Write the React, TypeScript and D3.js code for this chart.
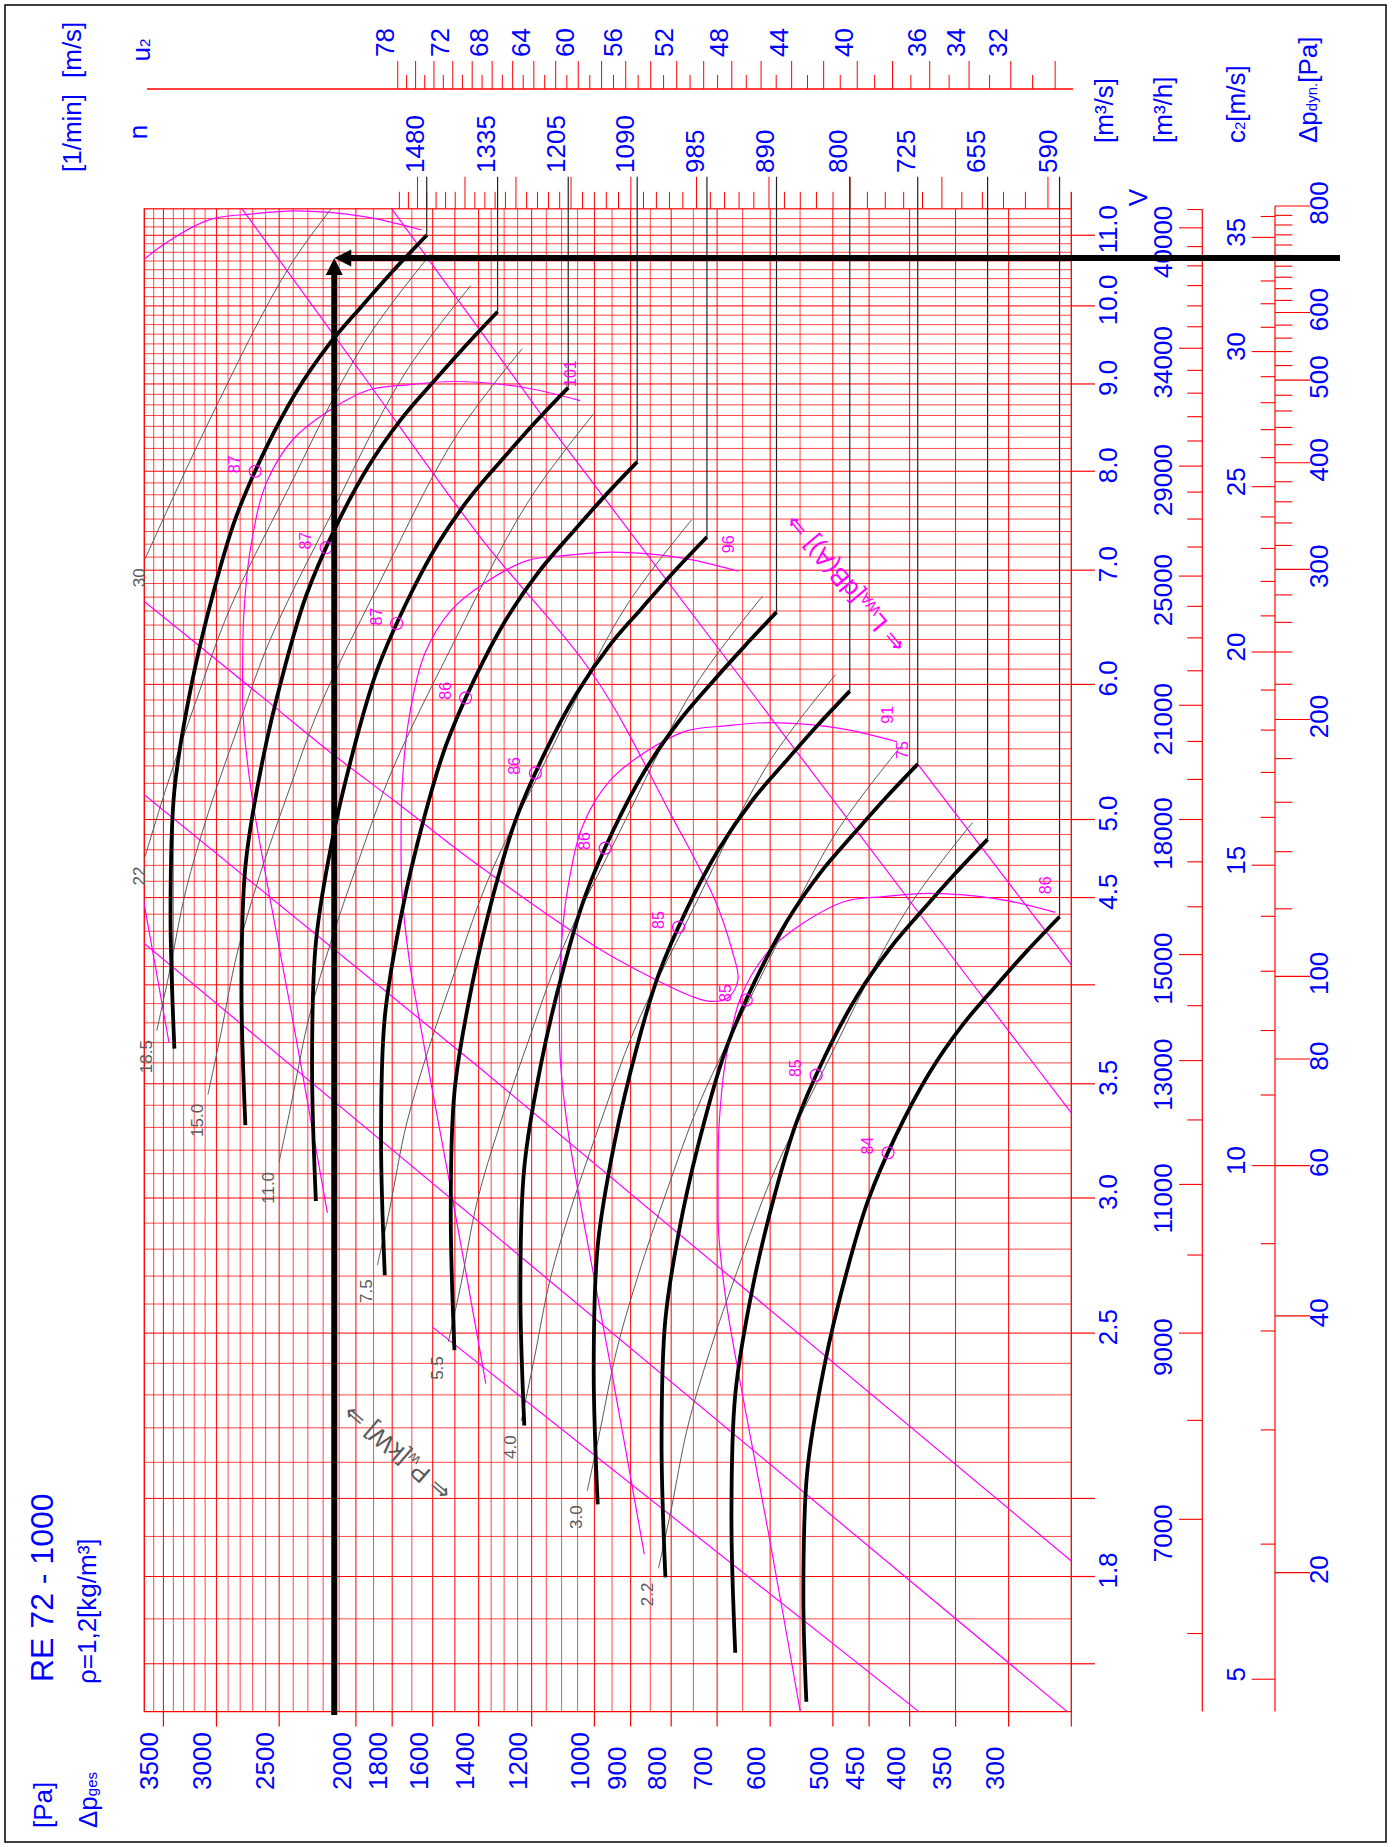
import React from "react";
import * as d3 from "d3";

type Pt = [number, number]; // [volume flow V in m³/s, total pressure Δp in Pa]

// ---------- axis values ----------
const PRESSURE_LABELS = [3500, 3000, 2500, 2000, 1800, 1600, 1400, 1200, 1000, 900, 800, 700, 600, 500, 450, 400, 350, 300];
const PRESSURE_END_TICKS = [250];
const FLOW_LABELS = [11, 10, 9, 8, 7, 6, 5, 4.5, 3.5, 3, 2.5, 1.8];
const FLOW_LONG_TICKS = [4, 2, 1.6];
const FLOW_H_LABELS = [40000, 34000, 29000, 25000, 21000, 18000, 15000, 13000, 11000, 9000, 7000];
const C2_LABELS = [35, 30, 25, 20, 15, 10, 5];
const PDYN_LABELS = [800, 600, 500, 400, 300, 200, 100, 80, 60, 40, 20];
const U2_LABELS = [78, 72, 68, 64, 60, 56, 52, 48, 44, 40, 36, 34, 32];

// ---------- fan constants ----------
const OUTLET_AREA = 0.3134; // m²
const RHO = 1.2; // kg/m³
const IMPELLER_D = 0.965; // m
const DUTY_V = 38400 / 3600; // m³/s
const DUTY_P = 2130; // Pa

// ---------- fan curves (one per speed) ----------
const SPEEDS = [1480, 1335, 1205, 1090, 985, 890, 800, 725, 655, 590];
const CURVE_1480: Pt[] = [[3.67, 3390], [4.4, 3428], [5.2, 3390], [6.0, 3225], [6.8, 3025], [7.5, 2840], [8.2, 2615], [8.9, 2380], [9.5, 2160], [10.0, 1965], [10.5, 1790], [11.0, 1628]];
const CURVE_1335: Pt[] = [[3.31, 2758], [3.969, 2789], [4.691, 2758], [5.412, 2624], [6.134, 2461], [6.765, 2311], [7.397, 2128], [8.028, 1937], [8.569, 1758], [9.02, 1599], [9.471, 1456], [9.922, 1325]];
const CURVE_1205: Pt[] = [[2.988, 2247], [3.582, 2272], [4.234, 2247], [4.885, 2138], [5.536, 2005], [6.106, 1883], [6.676, 1733], [7.246, 1578], [7.735, 1432], [8.142, 1303], [8.549, 1187], [8.956, 1079]];
const CURVE_1090: Pt[] = [[2.703, 1839], [3.241, 1859], [3.83, 1839], [4.419, 1749], [5.008, 1641], [5.524, 1540], [6.039, 1418], [6.555, 1291], [6.997, 1172], [7.365, 1066], [7.733, 971], [8.101, 883]];
const CURVE_985: Pt[] = [[2.443, 1502], [2.928, 1518], [3.461, 1502], [3.993, 1428], [4.526, 1340], [4.992, 1258], [5.457, 1158], [5.923, 1054], [6.323, 957], [6.655, 870], [6.988, 793], [7.321, 721]];
const CURVE_890: Pt[] = [[2.207, 1226], [2.646, 1240], [3.127, 1226], [3.608, 1166], [4.089, 1094], [4.51, 1027], [4.931, 946], [5.352, 861], [5.713, 781], [6.014, 711], [6.314, 647], [6.615, 589]];
const CURVE_800: Pt[] = [[1.984, 990.5], [2.378, 1002], [2.811, 990.5], [3.243, 942], [3.676, 884], [4.054, 830], [4.432, 764], [4.811, 695], [5.135, 631], [5.405, 574], [5.676, 523], [5.946, 476]];
const CURVE_725: Pt[] = [[1.798, 813.5], [2.155, 822.6], [2.547, 813.5], [2.939, 773.9], [3.331, 725.9], [3.674, 681.5], [4.017, 627.5], [4.36, 571.1], [4.654, 518.3], [4.899, 471.5], [5.144, 429.5], [5.388, 390.7]];
const CURVE_655: Pt[] = [[1.624, 664.0], [1.947, 671.4], [2.301, 664.0], [2.655, 631.7], [3.009, 592.5], [3.319, 556.3], [3.629, 512.2], [3.939, 466.2], [4.204, 423.1], [4.426, 384.9], [4.647, 350.6], [4.868, 318.9]];
const CURVE_590: Pt[] = [[1.52, 540], [1.754, 544.8], [2.073, 538.7], [2.392, 512.5], [2.711, 480.7], [2.99, 451.3], [3.269, 415.6], [3.548, 378.2], [3.787, 343.3], [3.987, 312.3], [4.186, 284.5], [4.385, 258.7]];
const FAN_CURVES = [CURVE_1480, CURVE_1335, CURVE_1205, CURVE_1090, CURVE_985, CURVE_890, CURVE_800, CURVE_725, CURVE_655, CURVE_590];

// best-efficiency points on each curve and their efficiency
const ETA_POINTS: Pt[] = [[8.0, 2680], [7.216, 2181], [6.514, 1777], [5.892, 1454], [5.324, 1187], [4.811, 969.1], [4.324, 783.0], [3.919, 643.1], [3.541, 524.9], [3.189, 425.9]];
const ETA_VALUES = [87, 87, 87, 86, 86, 86, 85, 85, 85, 84];

// ---------- sound power lines L_WA ----------
const LWA_106: Pt[] = [[3.701, 3444], [4.796, 3807], [5.816, 4114], [6.559, 4301], [7.201, 4397], [7.503, 4406], [8.309, 4390], [9.102, 4301], [9.908, 4114], [10.512, 3807], [10.915, 3444], [11.242, 3046], [11.318, 2724], [11.368, 2385], [11.28, 1953], [11.078, 1653]];
const LWA_101: Pt[] = [[2.94, 2173], [3.81, 2402], [4.62, 2596], [5.21, 2714], [5.72, 2774], [5.96, 2780], [6.6, 2770], [7.23, 2714], [7.87, 2596], [8.35, 2402], [8.67, 2173], [8.93, 1922], [8.99, 1719], [9.03, 1505], [8.96, 1232], [8.8, 1043]];
const LWA_96: Pt[] = [[2.335, 1371], [3.026, 1516], [3.67, 1638], [4.138, 1713], [4.543, 1750], [4.734, 1754], [5.242, 1748], [5.743, 1713], [6.251, 1638], [6.632, 1516], [6.887, 1371], [7.093, 1213], [7.141, 1085], [7.173, 950], [7.117, 777], [6.99, 658]];
const LWA_91: Pt[] = [[1.855, 865], [2.404, 956], [2.915, 1033], [3.288, 1080], [3.609, 1104], [3.761, 1107], [4.165, 1103], [4.562, 1080], [4.966, 1033], [5.269, 956], [5.471, 865], [5.635, 765], [5.673, 684], [5.698, 599], [5.654, 490], [5.553, 415]];
const LWA_86: Pt[] = [[1.474, 546], [1.91, 603], [2.316, 652], [2.611, 682], [2.867, 697], [2.987, 698], [3.308, 696], [3.624, 682], [3.944, 652], [4.185, 603], [4.345, 546], [4.476, 483], [4.506, 432], [4.526, 378], [4.491, 309], [4.411, 262]];
const LWA_LINES = [LWA_106, LWA_101, LWA_96, LWA_91, LWA_86];
const LWA_LABELS = ["", "101", "96", "91", "86"];

// ---------- efficiency contours ----------
const ETA85_LOOP: Pt[] = [[11.44, 2800], [9.159, 1977], [7.325, 1395], [6.06, 999], [5.028, 799.6], [4.485, 704.5], [4.193, 670.5], [4.027, 658.9], [3.93, 678.3], [3.912, 715.3], [3.94, 755.1], [4.037, 844.9], [4.213, 997.2], [4.716, 1415], [5.099, 1760], [5.492, 2173], [5.874, 2596], [6.71, 3700]];
const ETA80_UPPER: Pt[] = [[11.44, 1812], [8.574, 1154], [3.919, 321.4], [3.365, 250]];
const ETA75_UPPER: Pt[] = [[5.388, 390.7], [4.11, 250]];
const ETA80_LOWER: Pt[] = [[5.17, 3700], [3.575, 1395], [1.838, 250]];
const ETA75_LOWER: Pt[] = [[4.23, 3700], [1.5, 253]];
const ETA70_LOWER: Pt[] = [[2.521, 1602], [1.5, 389.4]];
const ETA_STRAIGHT = [ETA80_UPPER, ETA75_UPPER, ETA80_LOWER, ETA75_LOWER, ETA70_LOWER];

// ---------- shaft power lines P_w ----------
const POWER_LABELS = ["30", "22", "18.5", "15.0", "11.0", "7.5", "5.5", "4.0", "3.0", "2.2"];
const PW_30: Pt[] = [[7.09, 3700], [8.58, 3057], [10.56, 2421], [11.9, 1996]];
const PW_22: Pt[] = [[4.74, 3700], [5.26, 3452], [5.86, 3186], [6.64, 2887], [7.73, 2462], [9.52, 1950], [10.73, 1608]];
const PW_18_5: Pt[] = [[3.76, 3568], [4.07, 3439], [4.54, 3280], [5.04, 3074], [5.61, 2838], [6.36, 2571], [7.41, 2192], [9.12, 1737], [10.28, 1432]];
const PW_15: Pt[] = [[3.45, 3075], [3.74, 2963], [4.17, 2826], [4.63, 2648], [5.16, 2444], [5.84, 2215], [6.81, 1889], [8.38, 1497], [9.44, 1233]];
const PW_11: Pt[] = [[3.15, 2500], [3.42, 2409], [3.81, 2298], [4.23, 2154], [4.72, 1988], [5.34, 1801], [6.23, 1536], [7.66, 1216], [8.64, 1003]];
const PW_7_5: Pt[] = [[2.74, 1879], [2.96, 1812], [3.31, 1728], [3.67, 1619], [4.09, 1495], [4.64, 1354], [5.4, 1155], [6.65, 915], [7.49, 754]];
const PW_5_5: Pt[] = [[2.47, 1529], [2.67, 1474], [2.99, 1405], [3.31, 1317], [3.69, 1216], [4.18, 1102], [4.87, 939], [6.0, 744], [6.76, 613]];
const PW_4: Pt[] = [[2.22, 1237], [2.41, 1192], [2.69, 1137], [2.98, 1065], [3.32, 983], [3.76, 891], [4.38, 760], [5.4, 602], [6.08, 496]];
const PW_3: Pt[] = [[2.02, 1021], [2.19, 984], [2.44, 938], [2.71, 879], [3.02, 812], [3.42, 735], [3.98, 627], [4.9, 497], [5.52, 410]];
const PW_2_2: Pt[] = [[1.82, 830], [1.97, 800], [2.2, 763], [2.44, 715], [2.72, 660], [3.08, 598], [3.59, 510], [4.42, 404], [4.98, 333]];
const POWER_LINES = [PW_30, PW_22, PW_18_5, PW_15, PW_11, PW_7_5, PW_5_5, PW_4, PW_3, PW_2_2];

// ---------- scales ----------
const P_MAX = 3700, P_MIN = 250, V_MAX = 11.4, V_MIN = 1.5;
const xP = d3.scaleLog().domain([3500, 300]).range([163.4, 1008.6]);
const yV = d3.scaleLog().domain([6, 3]).range([684.4, 1198]);
const X0 = xP(P_MAX), X1 = xP(P_MIN), Y0 = yV(V_MAX), Y1 = yV(V_MIN);

const P_END = CURVE_1480[CURVE_1480.length - 1][1];
const N_REF = SPEEDS[0];
const xN = (n: number) => xP(P_END * (n / N_REF) ** 2);
const xU = (u: number) => xN((u * 60) / (Math.PI * IMPELLER_D));
const yC2 = (c: number) => yV(c * OUTLET_AREA);
const yPd = (pd: number) => yC2(Math.sqrt((2 * pd) / RHO));

const P_GRID = [...d3.range(3700, 1350, -100), ...d3.range(1350, 249, -50)];
const V_GRID = [...d3.range(15, 51).map((i) => i / 10), ...d3.range(41, 91).map((i) => i * 0.125)];
const N_TICKS = d3.range(580, 1541, 20);
const U2_TICKS = d3.range(30, 79, 1);
const QH_TICKS = d3.range(6000, 41001, 1000);
const C2_TICKS = d3.range(5, 37, 1);
const PDYN_TICKS = d3.range(20, 801, 20);

const FONT = "'Liberation Sans', Arial, Helvetica, sans-serif";
const BLUE = "#0000ff";
const RED = "#ff0000";
const PINK = "#ff00ff";
const GRAY = "#5a5a5a";

const smooth = d3.line<Pt>().x((d) => xP(d[1])).y((d) => yV(d[0])).curve(d3.curveCatmullRom.alpha(0.5));
const straight = d3.line<Pt>().x((d) => xP(d[1])).y((d) => yV(d[0]));

function VT(props: { x: number; y: number; a?: string; s?: number; c?: string; children: React.ReactNode }) {
  const { x, y, a = "middle", s = 26, c = BLUE, children } = props;
  return (
    <text transform={`translate(${x},${y}) rotate(-90)`} textAnchor={a} fontSize={s} fill={c} fontFamily={FONT}>
      {children}
    </text>
  );
}

const near = (a: number, list: number[]) => list.some((b) => Math.abs(a - b) < 1e-6);

export default function App() {
  const ox = xP(DUTY_P);
  const oy = yV(DUTY_V);
  const qTop = yV(41000 / 3600);
  const cTop = yPd(800);

  return (
    <svg width={1394} height={1847} style={{ position: "absolute", left: 0, top: 0, background: "#fff" }} xmlns="http://www.w3.org/2000/svg">
      <defs>
        <clipPath id="plot">
          <rect x={X0} y={Y0} width={X1 - X0} height={Y1 - Y0} />
        </clipPath>
      </defs>
      <rect x={0} y={0} width={1394} height={1847} fill="#fff" />
      <rect x={5} y={5} width={1381} height={1837} fill="none" stroke="#000" strokeWidth={1.5} />

      {/* grid */}
      <g>
        {P_GRID.map((p) => (
          <line key={"gp" + p} x1={xP(p)} x2={xP(p)} y1={Y0} y2={Y1} stroke={RED} strokeWidth={1} strokeOpacity={near(p, PRESSURE_LABELS) || p % 500 === 0 ? 1 : 0.72} />
        ))}
        {V_GRID.map((v) => (
          <line key={"gv" + v} x1={X0} x2={X1} y1={yV(v)} y2={yV(v)} stroke={RED} strokeWidth={1} strokeOpacity={near(v, FLOW_LABELS) || near(v, FLOW_LONG_TICKS) ? 1 : 0.72} />
        ))}
        <rect x={X0} y={Y0} width={X1 - X0} height={Y1 - Y0} fill="none" stroke={RED} strokeWidth={1.2} />
        <line x1={X1} x2={X1} y1={Y0} y2={192} stroke={RED} strokeWidth={1.2} />
      </g>

      {/* bottom pressure axis */}
      <g>
        {[...PRESSURE_LABELS, ...PRESSURE_END_TICKS].map((p) => (
          <line key={"tp" + p} x1={xP(p)} x2={xP(p)} y1={Y1} y2={Y1 + 15} stroke={RED} strokeWidth={1.2} />
        ))}
        {PRESSURE_LABELS.map((p) => (
          <VT key={"lp" + p} x={xP(p) - 5} y={1790} a="start">{p}</VT>
        ))}
      </g>

      {/* speed axis n and tip speed axis u2 */}
      <g>
        {N_TICKS.map((n) => (
          <line key={"tn" + n} x1={xN(n)} x2={xN(n)} y1={Y0} y2={n % 100 === 0 ? 176.8 : 191.8} stroke={RED} strokeWidth={1} />
        ))}
        {SPEEDS.map((n) => (
          <VT key={"ln" + n} x={xN(n) - 3} y={173} a="start">{n}</VT>
        ))}
        <line x1={147} x2={1073} y1={89} y2={89} stroke={RED} strokeWidth={1.3} />
        {U2_TICKS.map((u) => (
          <line key={"tu" + u} x1={xU(u)} x2={xU(u)} y1={89} y2={u % 2 === 0 ? 61 : 75} stroke={RED} strokeWidth={1} />
        ))}
        {U2_LABELS.map((u) => (
          <VT key={"lu" + u} x={xU(u) - 4} y={57} a="start">{u}</VT>
        ))}
      </g>

      {/* flow axes on the right */}
      <g>
        {[...FLOW_LABELS, ...FLOW_LONG_TICKS].map((v) => (
          <line key={"tv" + v} x1={X1} x2={1095} y1={yV(v)} y2={yV(v)} stroke={RED} strokeWidth={1.2} />
        ))}
        {FLOW_LABELS.map((v) => (
          <VT key={"lv" + v} x={1116.7} y={yV(v) - 6}>{v.toFixed(1)}</VT>
        ))}
        <line x1={1202.3} x2={1202.3} y1={qTop} y2={Y1} stroke={RED} strokeWidth={1.2} />
        {QH_TICKS.map((q) => (
          <line key={"tq" + q} x1={near(q, FLOW_H_LABELS) ? 1179 : 1187.3} x2={1202.3} y1={yV(q / 3600)} y2={yV(q / 3600)} stroke={RED} strokeWidth={1.1} />
        ))}
        {FLOW_H_LABELS.map((q) => (
          <VT key={"lq" + q} x={1171.7} y={yV(q / 3600) + 14}>{q}</VT>
        ))}
        <line x1={1275} x2={1275} y1={cTop} y2={Y1} stroke={RED} strokeWidth={1.2} />
        {C2_TICKS.map((c) => (
          <line key={"tc" + c} x1={c % 5 === 0 ? 1251.7 : 1260.7} x2={1275} y1={yC2(c)} y2={yC2(c)} stroke={RED} strokeWidth={1.1} />
        ))}
        {C2_LABELS.map((c) => (
          <VT key={"lc" + c} x={1245} y={yC2(c) - 5}>{c}</VT>
        ))}
        {PDYN_TICKS.map((d) => (
          <line key={"td" + d} x1={1275} x2={near(d, PDYN_LABELS) ? 1310 : 1292.3} y1={yPd(d)} y2={yPd(d)} stroke={RED} strokeWidth={1.1} />
        ))}
        {PDYN_LABELS.map((d) => (
          <VT key={"ld" + d} x={1328.3} y={yPd(d) - 3}>{d}</VT>
        ))}
      </g>

      {/* efficiency contours, sound power lines */}
      <g clipPath="url(#plot)" fill="none" stroke={PINK} strokeWidth={1.2}>
        {LWA_LINES.map((l, i) => (
          <path key={"lwa" + i} d={smooth(l) || ""} />
        ))}
        <path d={smooth(ETA85_LOOP) || ""} />
        {ETA_STRAIGHT.map((l, i) => (
          <path key={"es" + i} d={straight(l) || ""} />
        ))}
      </g>

      {/* shaft power lines */}
      <g clipPath="url(#plot)" fill="none" stroke={GRAY} strokeWidth={1}>
        {POWER_LINES.map((l, i) => (
          <path key={"pw" + i} d={smooth(l) || ""} />
        ))}
      </g>

      {/* fan curves */}
      <g fill="none" stroke="#000" strokeWidth={3.8} strokeLinecap="butt">
        {FAN_CURVES.map((c, i) => (
          <path key={"fc" + i} d={smooth(c) || ""} />
        ))}
      </g>
      <g stroke="#222" strokeWidth={1.2}>
        {FAN_CURVES.map((c, i) => {
          const e = c[c.length - 1];
          return <line key={"fe" + i} x1={xP(e[1])} x2={xP(e[1])} y1={yV(e[0])} y2={176.8} />;
        })}
      </g>

      {/* efficiency markers */}
      <g>
        {ETA_POINTS.map((d, i) => (
          <g key={"ep" + i}>
            <circle cx={xP(d[1])} cy={yV(d[0])} r={6} fill="none" stroke={PINK} strokeWidth={1.2} />
            <VT x={xP(d[1]) - 15} y={yV(d[0]) - 7} s={16} c={PINK}>{ETA_VALUES[i]}</VT>
          </g>
        ))}
        {LWA_LINES.map((l, i) => {
          const e = l[l.length - 1];
          return LWA_LABELS[i] ? (
            <VT key={"ll" + i} x={xP(e[1]) - 4} y={yV(e[0]) - 27} s={16} c={PINK}>{LWA_LABELS[i]}</VT>
          ) : null;
        })}
        <VT x={xP(ETA75_UPPER[0][1]) - 10} y={yV(ETA75_UPPER[0][0]) - 14} s={16} c={PINK}>75</VT>
        <text transform="translate(845,584) rotate(230)" textAnchor="middle" dy="0.35em" fontSize={25} fill={PINK} fontFamily={FONT}>
          ⇐ L<tspan fontSize={15} dy={3}>WA</tspan><tspan dy={-3}>[dB(A)] ⇒</tspan>
        </text>
      </g>

      {/* power labels */}
      <g>
        {POWER_LINES.map((l, i) => {
          const s = l[0];
          const clipped = s[1] >= P_MAX;
          const x = clipped ? X0 + 1 : xP(s[1]) - 5;
          const y = yV(s[0]) + (clipped ? 17 : 26);
          return (
            <VT key={"pl" + i} x={x} y={y} s={17} c={GRAY}>{POWER_LABELS[i]}</VT>
          );
        })}
        <text transform="translate(397,1453) rotate(220.6)" textAnchor="middle" dy="0.35em" fontSize={25} fill={GRAY} fontFamily={FONT}>
          ⇐ P<tspan fontSize={15} dy={3}>w</tspan><tspan dy={-3}>[kW] ⇒</tspan>
        </text>
      </g>

      {/* duty point arrows */}
      <g fill="#000" stroke="none">
        <line x1={ox} x2={ox} y1={1715} y2={oy + 14} stroke="#000" strokeWidth={6} />
        <polygon points={`${ox},${oy} ${ox - 8.5},${oy + 17} ${ox + 8.5},${oy + 17}`} />
        <line x1={1340} x2={ox + 14} y1={oy} y2={oy} stroke="#000" strokeWidth={6} />
        <polygon points={`${ox},${oy} ${ox + 17},${oy - 8.5} ${ox + 17},${oy + 8.5}`} />
      </g>

      {/* axis titles */}
      <g>
        <VT x={53} y={1682} a="start" s={32}>RE 72 - 1000</VT>
        <VT x={96} y={1684} a="start">ρ=1,2[kg/m³]</VT>
        <VT x={51.5} y={1828} a="start">[Pa]</VT>
        <VT x={97} y={1828} a="start">
          Δp<tspan fontSize={15}>ges</tspan>
        </VT>
        <VT x={81} y={172} a="start">[1/min]</VT>
        <VT x={81} y={78} a="start">[m/s]</VT>
        <VT x={147} y={132}>n</VT>
        <VT x={150} y={50}>
          u<tspan fontSize={15}>2</tspan>
        </VT>
        <VT x={1113} y={143} a="start">[m³/s]</VT>
        <VT x={1146.7} y={197.5}>V</VT>
        <VT x={1171.7} y={143} a="start">[m³/h]</VT>
        <VT x={1245} y={143} a="start">
          c<tspan fontSize={15}>2</tspan>[m/s]
        </VT>
        <VT x={1317} y={143} a="start">
          Δp<tspan fontSize={15}>dyn.</tspan>[Pa]
        </VT>
      </g>
    </svg>
  );
}
